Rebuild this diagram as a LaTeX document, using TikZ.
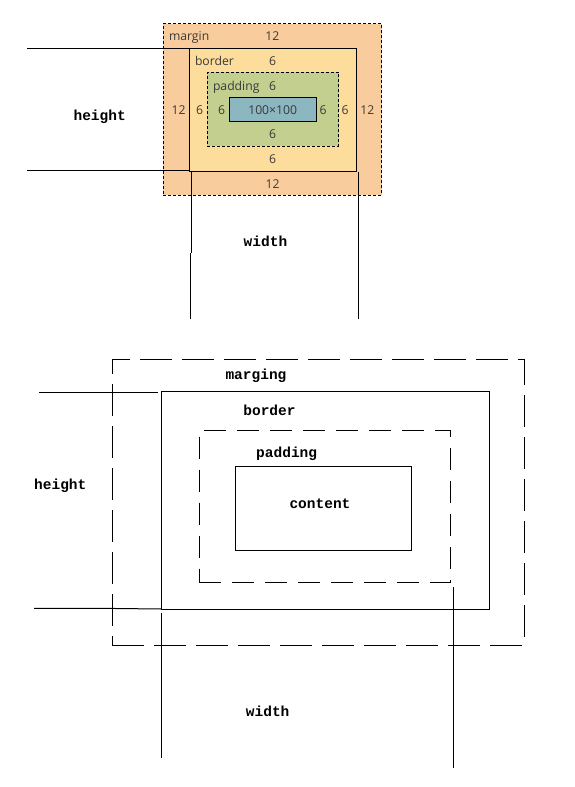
\documentclass[tikz,border=0pt]{standalone}
\usepackage{fontspec}
\newfontfamily\monob{Liberation Mono}
\newfontfamily\uisans{Open Sans}
\definecolor{mcol}{HTML}{F9CC9D}
\definecolor{bcol}{HTML}{FDDD9B}
\definecolor{pcol}{HTML}{C3CF8E}
\definecolor{ccol}{HTML}{8CB6C0}
\definecolor{tcol}{HTML}{3A3A3A}
\begin{document}
\begin{tikzpicture}[x=1pt,y=-1pt,line width=1pt,
  bx/.style={draw=black,inner sep=0pt,outer sep=0pt,anchor=north west},
  fdash/.style={dash pattern=on 3pt off 2pt},
  bigdash/.style={dash pattern=on 32pt off 10pt},
  middash/.style={dash pattern=on 22pt off 11pt},
  small/.style={font=\uisans\fontsize{12.2}{13}\selectfont,text=tcol,inner sep=0pt,anchor=base},
  lbl/.style={font=\monob\bfseries\fontsize{14.5}{15}\selectfont,inner sep=0pt,anchor=base}]
\useasboundingbox (0,0) rectangle (574,787);
% ---------- top diagram ----------
\node[bx,fill=mcol,fdash,minimum width=218.4pt,minimum height=171.3pt] (m1) at (163.3,23.7) {};
\node[bx,fill=bcol,minimum width=167.2pt,minimum height=123pt] (b1) at (189.5,48.3) {};
\node[bx,fill=pcol,fdash,minimum width=131.4pt,minimum height=73.7pt] (p1) at (207.3,72.3) {};
\node[bx,fill=ccol,minimum width=87pt,minimum height=24pt] (c1) at (229.3,97.3) {};
\node[small,anchor=base west] (tm) at (168.5,40.7) {margin};
\node[small] (tm12) at (272.3,40.7) {12};
\node[small,anchor=base west] (tb) at (194.5,65) {border};
\node[small] (tb6) at (272.5,65) {6};
\node[small,anchor=base west] (tp) at (212.5,90.3) {padding};
\node[small] (tp6) at (272.5,90.3) {6};
\node[small] (ml12) at (178.5,114.7) {12};
\node[small] (bl6) at (199.5,114.7) {6};
\node[small] (pl6) at (221.7,114.7) {6};
\node[small] (cc) at (272.7,114.7) {100×100};
\node[small] (pr6) at (323,114.7) {6};
\node[small] (br6) at (345,114.7) {6};
\node[small] (mr12) at (367.3,114.7) {12};
\node[small] (pb6) at (272.5,138.3) {6};
\node[small] (bb6) at (272.5,163.3) {6};
\node[small] (mb12) at (272.5,188.3) {12};
\coordinate (h1a) at (27.3,48.3);
\coordinate (h1b) at (27.3,170.7);
\draw (h1a) -- (b1.north west);
\draw (h1b) -- (b1.south west |- h1b);
\coordinate (v1a) at (191.3,171.5);
\coordinate (v1b) at (191.3,253);
\coordinate (v1c) at (190.3,253);
\coordinate (v1d) at (190.3,318.5);
\draw (v1a) -- (v1b);
\draw (v1c) -- (v1d);
\coordinate (v2a) at (358.3,171.5);
\coordinate (v2b) at (358.3,318.5);
\draw (v2a) -- (v2b);
\node[lbl] (hgt1) at (99.7,120) {height};
\node[lbl] (wid1) at (265.5,246) {width};
% ---------- bottom diagram ----------
\node[bx,bigdash,minimum width=412pt,minimum height=285.3pt] (m2) at (112.3,359.7) {};
\node[bx,minimum width=327.6pt,minimum height=217.3pt] (b2) at (161.7,391.7) {};
\node[bx,middash,minimum width=251pt,minimum height=151.7pt] (p2) at (199.3,430.3) {};
\node[bx,minimum width=176pt,minimum height=84pt] (c2) at (235.3,466.3) {};
\node[lbl] (tmg) at (256,379.3) {marging};
\node[lbl] (tbd) at (269.5,415.7) {border};
\node[lbl] (tpd) at (286.7,457.3) {padding};
\node[lbl] (tct) at (320,508.7) {content};
\node[lbl] (hgt2) at (60.3,489.3) {height};
\node[lbl] (wid2) at (267.7,716) {width};
\coordinate (h2a) at (39,392.3);
\coordinate (h2b) at (157.7,392.3);
\draw (h2a) -- (h2b);
\coordinate (h3a) at (34,608.3);
\coordinate (h3b) at (97.7,608.3);
\draw (h3a) -- (h3b) -- (b2.south west);
\coordinate (v3a) at (161.3,613);
\coordinate (v3b) at (161.3,758);
\draw (v3a) -- (v3b);
\coordinate (v4a) at (453.3,587);
\coordinate (v4b) at (453.3,768);
\draw (v4a) -- (v4b);
\end{tikzpicture}
\end{document}
